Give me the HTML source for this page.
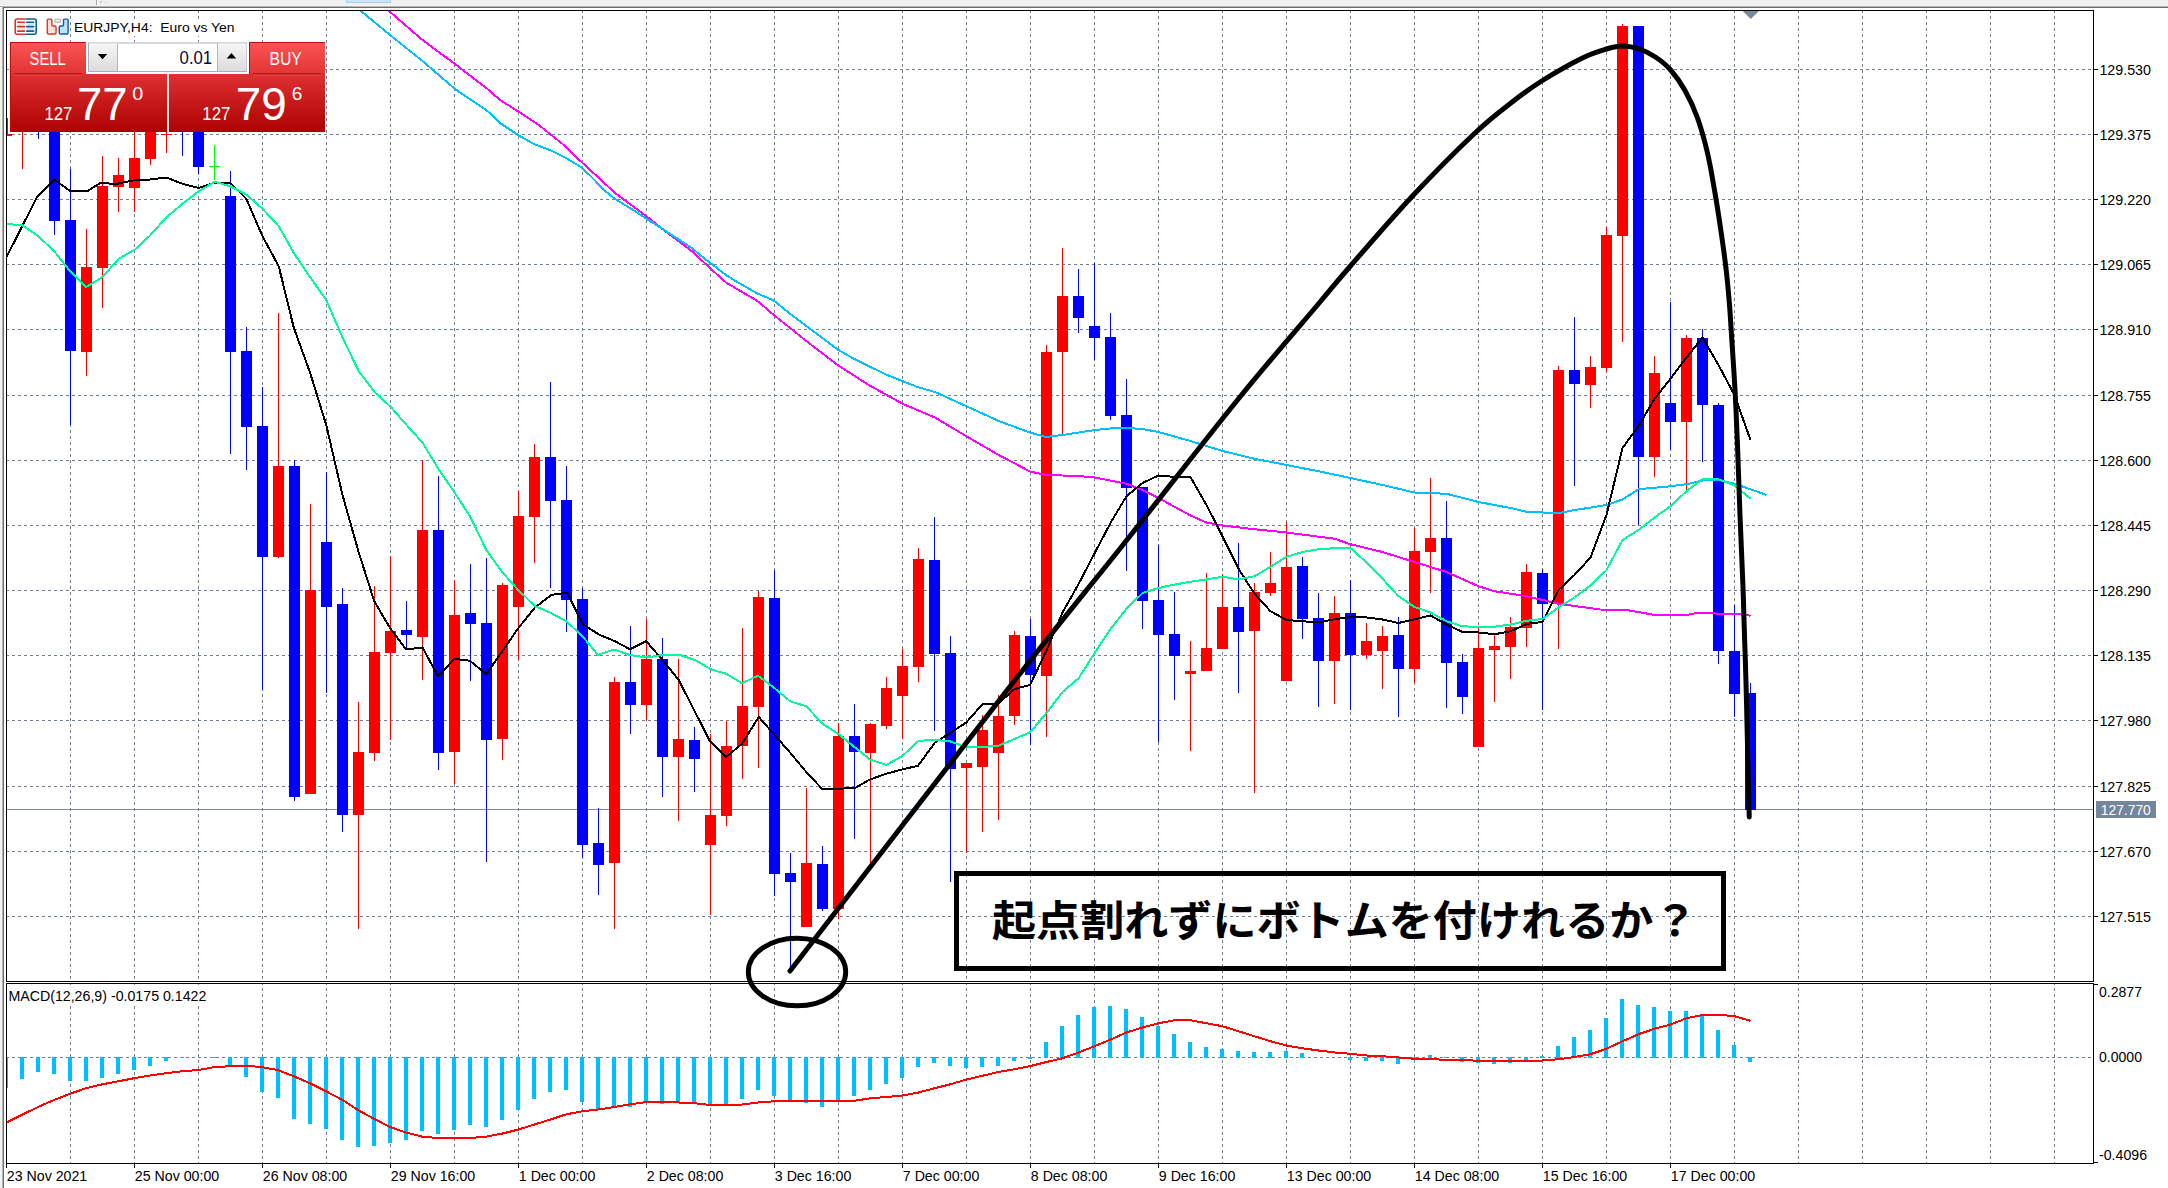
<!DOCTYPE html>
<html lang="ja"><head><meta charset="utf-8"><title>EURJPY,H4</title>
<style>html,body{margin:0;padding:0;background:#fff}body{width:2168px;height:1188px;overflow:hidden}svg{display:block}text{font-family:"Liberation Sans", sans-serif}</style>
</head><body>
<svg width="2168" height="1188" viewBox="0 0 2168 1188">
<defs>
<linearGradient id="gS" x1="0" y1="0" x2="0" y2="1"><stop offset="0" stop-color="#fb5555"/><stop offset="1" stop-color="#e13333"/></linearGradient>
<linearGradient id="gP" x1="0" y1="0" x2="0" y2="1"><stop offset="0" stop-color="#df3131"/><stop offset="1" stop-color="#ad0000"/></linearGradient>
<linearGradient id="gB" x1="0" y1="0" x2="0" y2="1"><stop offset="0" stop-color="#f6f6f6"/><stop offset="1" stop-color="#dcdcdc"/></linearGradient>
<linearGradient id="gT" x1="0" y1="0" x2="0" y2="1"><stop offset="0" stop-color="#dcdcdc"/><stop offset="1" stop-color="#a0a0a0"/></linearGradient>
<clipPath id="cm"><rect x="7" y="11" width="2086" height="970"/></clipPath>
<clipPath id="cd"><rect x="7" y="984" width="2086" height="179"/></clipPath>
</defs>
<rect width="2168" height="1188" fill="#fff"/>
<g shape-rendering="crispEdges">
<rect x="0" y="0" width="2168" height="6" fill="#f0f0f0"/>
<rect x="0" y="6" width="2168" height="1" fill="#b4b4b4"/>
<rect x="0" y="7" width="2168" height="1" fill="#6e6e6e"/>
<rect x="0" y="7" width="2" height="1181" fill="#f2f2f2"/>
<rect x="2" y="7" width="1" height="1181" fill="#b4b4b4"/>
<rect x="3" y="7" width="1" height="1181" fill="#6e6e6e"/>
<rect x="96" y="0" width="1" height="5" fill="#c4c4c4"/>
<rect x="346" y="0" width="45" height="3" fill="#a9cff0"/><rect x="347" y="0" width="43" height="2" fill="#cce4f7"/>
<rect x="97" y="0" width="1" height="6" fill="#fff"/><rect x="96" y="0" width="1" height="6" fill="#a4a4a4"/><rect x="100" y="1" width="2" height="2" fill="#cdcdcd"/><rect x="105" y="2" width="1" height="1" fill="#c4c4c4"/>
<rect x="0" y="5" width="2168" height="1" fill="#f6f6f6"/>
</g>
<g stroke="#708090" stroke-width="1" stroke-dasharray="3 3" shape-rendering="crispEdges" fill="none">
<path d="M6 69.5 H2093"/>
<path d="M6 134.5 H2093"/>
<path d="M6 199.5 H2093"/>
<path d="M6 264.5 H2093"/>
<path d="M6 329.5 H2093"/>
<path d="M6 395.5 H2093"/>
<path d="M6 460.5 H2093"/>
<path d="M6 525.5 H2093"/>
<path d="M6 590.5 H2093"/>
<path d="M6 655.5 H2093"/>
<path d="M6 720.5 H2093"/>
<path d="M6 786.5 H2093"/>
<path d="M6 851.5 H2093"/>
<path d="M6 916.5 H2093"/>
<path d="M6 1057.5 H2093"/>
<path d="M70.5 10 V981"/>
<path stroke-dashoffset="1" d="M70.5 983 V1163"/>
<path d="M134.5 10 V981"/>
<path stroke-dashoffset="1" d="M134.5 983 V1163"/>
<path d="M198.5 10 V981"/>
<path stroke-dashoffset="1" d="M198.5 983 V1163"/>
<path d="M262.5 10 V981"/>
<path stroke-dashoffset="1" d="M262.5 983 V1163"/>
<path d="M326.5 10 V981"/>
<path stroke-dashoffset="1" d="M326.5 983 V1163"/>
<path d="M390.5 10 V981"/>
<path stroke-dashoffset="1" d="M390.5 983 V1163"/>
<path d="M454.5 10 V981"/>
<path stroke-dashoffset="1" d="M454.5 983 V1163"/>
<path d="M518.5 10 V981"/>
<path stroke-dashoffset="1" d="M518.5 983 V1163"/>
<path d="M582.5 10 V981"/>
<path stroke-dashoffset="1" d="M582.5 983 V1163"/>
<path d="M646.5 10 V981"/>
<path stroke-dashoffset="1" d="M646.5 983 V1163"/>
<path d="M710.5 10 V981"/>
<path stroke-dashoffset="1" d="M710.5 983 V1163"/>
<path d="M774.5 10 V981"/>
<path stroke-dashoffset="1" d="M774.5 983 V1163"/>
<path d="M838.5 10 V981"/>
<path stroke-dashoffset="1" d="M838.5 983 V1163"/>
<path d="M902.5 10 V981"/>
<path stroke-dashoffset="1" d="M902.5 983 V1163"/>
<path d="M966.5 10 V981"/>
<path stroke-dashoffset="1" d="M966.5 983 V1163"/>
<path d="M1030.5 10 V981"/>
<path stroke-dashoffset="1" d="M1030.5 983 V1163"/>
<path d="M1094.5 10 V981"/>
<path stroke-dashoffset="1" d="M1094.5 983 V1163"/>
<path d="M1158.5 10 V981"/>
<path stroke-dashoffset="1" d="M1158.5 983 V1163"/>
<path d="M1222.5 10 V981"/>
<path stroke-dashoffset="1" d="M1222.5 983 V1163"/>
<path d="M1286.5 10 V981"/>
<path stroke-dashoffset="1" d="M1286.5 983 V1163"/>
<path d="M1350.5 10 V981"/>
<path stroke-dashoffset="1" d="M1350.5 983 V1163"/>
<path d="M1414.5 10 V981"/>
<path stroke-dashoffset="1" d="M1414.5 983 V1163"/>
<path d="M1478.5 10 V981"/>
<path stroke-dashoffset="1" d="M1478.5 983 V1163"/>
<path d="M1542.5 10 V981"/>
<path stroke-dashoffset="1" d="M1542.5 983 V1163"/>
<path d="M1606.5 10 V981"/>
<path stroke-dashoffset="1" d="M1606.5 983 V1163"/>
<path d="M1670.5 10 V981"/>
<path stroke-dashoffset="1" d="M1670.5 983 V1163"/>
<path d="M1734.5 10 V981"/>
<path stroke-dashoffset="1" d="M1734.5 983 V1163"/>
<path d="M1798.5 10 V981"/>
<path stroke-dashoffset="1" d="M1798.5 983 V1163"/>
<path d="M1862.5 10 V981"/>
<path stroke-dashoffset="1" d="M1862.5 983 V1163"/>
<path d="M1926.5 10 V981"/>
<path stroke-dashoffset="1" d="M1926.5 983 V1163"/>
<path d="M1990.5 10 V981"/>
<path stroke-dashoffset="1" d="M1990.5 983 V1163"/>
<path d="M2054.5 10 V981"/>
<path stroke-dashoffset="1" d="M2054.5 983 V1163"/>
</g>
<rect x="7" y="809" width="2086" height="1" fill="#7b8ba1" shape-rendering="crispEdges"/>
<g clip-path="url(#cm)" shape-rendering="crispEdges">
<path fill="#ff0000" d="M22 100h1v69h-1zM17 100h11v10h-11z"/>
<path fill="#0000ff" d="M38 100h1v39h-1zM33 100h11v10h-11z"/>
<path fill="#0000ff" d="M54 100h1v135h-1zM49 100h11v121h-11z"/>
<path fill="#0000ff" d="M70 169h1v256h-1zM65 220h11v131h-11z"/>
<path fill="#ff0000" d="M86 229h1v147h-1zM81 267h11v85h-11z"/>
<path fill="#ff0000" d="M102 156h1v152h-1zM97 186h11v82h-11z"/>
<path fill="#ff0000" d="M118 158h1v54h-1zM113 175h11v12h-11z"/>
<path fill="#ff0000" d="M134 100h1v112h-1zM129 158h11v30h-11z"/>
<path fill="#ff0000" d="M150 100h1v65h-1zM145 100h11v59h-11z"/>
<path fill="#ff0000" d="M166 100h1v53h-1zM161 134h11v1h-11z"/>
<path fill="#0000ff" d="M182 100h1v56h-1zM177 100h11v10h-11z"/>
<path fill="#0000ff" d="M198 100h1v74h-1zM193 100h11v67h-11z"/>
<path fill="#00ff00" d="M214 145h1v35h-1zM209 166h11v1h-11z"/>
<path fill="#0000ff" d="M230 171h1v283h-1zM225 196h11v156h-11z"/>
<path fill="#0000ff" d="M246 327h1v143h-1zM241 351h11v76h-11z"/>
<path fill="#0000ff" d="M262 387h1v303h-1zM257 426h11v131h-11z"/>
<path fill="#ff0000" d="M278 313h1v245h-1zM273 466h11v91h-11z"/>
<path fill="#0000ff" d="M294 460h1v341h-1zM289 466h11v331h-11z"/>
<path fill="#ff0000" d="M310 504h1v290h-1zM305 590h11v204h-11z"/>
<path fill="#0000ff" d="M326 472h1v221h-1zM321 542h11v65h-11z"/>
<path fill="#0000ff" d="M342 588h1v244h-1zM337 604h11v211h-11z"/>
<path fill="#ff0000" d="M358 702h1v227h-1zM353 752h11v63h-11z"/>
<path fill="#ff0000" d="M374 586h1v175h-1zM369 652h11v101h-11z"/>
<path fill="#ff0000" d="M390 556h1v184h-1zM385 631h11v22h-11z"/>
<path fill="#0000ff" d="M406 601h1v47h-1zM401 630h11v5h-11z"/>
<path fill="#ff0000" d="M422 460h1v220h-1zM417 530h11v107h-11z"/>
<path fill="#0000ff" d="M438 476h1v294h-1zM433 530h11v223h-11z"/>
<path fill="#ff0000" d="M454 580h1v204h-1zM449 615h11v137h-11z"/>
<path fill="#0000ff" d="M470 564h1v117h-1zM465 613h11v11h-11z"/>
<path fill="#0000ff" d="M486 558h1v304h-1zM481 623h11v117h-11z"/>
<path fill="#ff0000" d="M502 583h1v177h-1zM497 585h11v154h-11z"/>
<path fill="#ff0000" d="M518 491h1v169h-1zM513 516h11v91h-11z"/>
<path fill="#ff0000" d="M534 444h1v119h-1zM529 457h11v60h-11z"/>
<path fill="#0000ff" d="M550 382h1v206h-1zM545 457h11v44h-11z"/>
<path fill="#0000ff" d="M566 466h1v166h-1zM561 500h11v100h-11z"/>
<path fill="#0000ff" d="M582 588h1v270h-1zM577 599h11v246h-11z"/>
<path fill="#0000ff" d="M598 808h1v87h-1zM593 843h11v22h-11z"/>
<path fill="#ff0000" d="M614 677h1v252h-1zM609 682h11v181h-11z"/>
<path fill="#0000ff" d="M630 626h1v108h-1zM625 682h11v23h-11z"/>
<path fill="#ff0000" d="M646 619h1v102h-1zM641 659h11v46h-11z"/>
<path fill="#0000ff" d="M662 638h1v159h-1zM657 659h11v98h-11z"/>
<path fill="#ff0000" d="M678 659h1v162h-1zM673 739h11v18h-11z"/>
<path fill="#0000ff" d="M694 727h1v65h-1zM689 740h11v19h-11z"/>
<path fill="#ff0000" d="M710 734h1v181h-1zM705 815h11v30h-11z"/>
<path fill="#ff0000" d="M726 721h1v105h-1zM721 746h11v70h-11z"/>
<path fill="#ff0000" d="M742 628h1v151h-1zM737 706h11v40h-11z"/>
<path fill="#ff0000" d="M758 591h1v177h-1zM753 597h11v110h-11z"/>
<path fill="#0000ff" d="M774 570h1v326h-1zM769 598h11v276h-11z"/>
<path fill="#0000ff" d="M790 853h1v115h-1zM785 873h11v9h-11z"/>
<path fill="#ff0000" d="M806 788h1v139h-1zM801 863h11v64h-11z"/>
<path fill="#0000ff" d="M822 846h1v65h-1zM817 864h11v45h-11z"/>
<path fill="#ff0000" d="M838 723h1v196h-1zM833 736h11v173h-11z"/>
<path fill="#0000ff" d="M854 704h1v135h-1zM849 736h11v16h-11z"/>
<path fill="#ff0000" d="M870 723h1v141h-1zM865 724h11v29h-11z"/>
<path fill="#ff0000" d="M886 677h1v52h-1zM881 688h11v38h-11z"/>
<path fill="#ff0000" d="M902 649h1v90h-1zM897 666h11v30h-11z"/>
<path fill="#ff0000" d="M918 548h1v134h-1zM913 559h11v108h-11z"/>
<path fill="#0000ff" d="M934 517h1v214h-1zM929 560h11v94h-11z"/>
<path fill="#0000ff" d="M950 636h1v246h-1zM945 653h11v116h-11z"/>
<path fill="#ff0000" d="M966 763h1v90h-1zM961 763h11v5h-11z"/>
<path fill="#ff0000" d="M982 715h1v117h-1zM977 730h11v37h-11z"/>
<path fill="#ff0000" d="M998 695h1v125h-1zM993 716h11v37h-11z"/>
<path fill="#ff0000" d="M1014 631h1v94h-1zM1009 635h11v81h-11z"/>
<path fill="#0000ff" d="M1030 619h1v126h-1zM1025 636h11v39h-11z"/>
<path fill="#ff0000" d="M1046 345h1v392h-1zM1041 352h11v324h-11z"/>
<path fill="#ff0000" d="M1062 248h1v186h-1zM1057 296h11v56h-11z"/>
<path fill="#0000ff" d="M1078 269h1v64h-1zM1073 296h11v22h-11z"/>
<path fill="#0000ff" d="M1094 263h1v97h-1zM1089 326h11v12h-11z"/>
<path fill="#0000ff" d="M1110 313h1v107h-1zM1105 337h11v79h-11z"/>
<path fill="#0000ff" d="M1126 379h1v192h-1zM1121 415h11v73h-11z"/>
<path fill="#0000ff" d="M1142 487h1v142h-1zM1137 487h11v114h-11z"/>
<path fill="#0000ff" d="M1158 545h1v197h-1zM1153 600h11v35h-11z"/>
<path fill="#0000ff" d="M1174 592h1v108h-1zM1169 634h11v22h-11z"/>
<path fill="#ff0000" d="M1190 641h1v110h-1zM1185 671h11v3h-11z"/>
<path fill="#ff0000" d="M1206 573h1v98h-1zM1201 648h11v23h-11z"/>
<path fill="#ff0000" d="M1222 574h1v75h-1zM1217 607h11v42h-11z"/>
<path fill="#0000ff" d="M1238 543h1v150h-1zM1233 607h11v25h-11z"/>
<path fill="#ff0000" d="M1254 583h1v210h-1zM1249 592h11v39h-11z"/>
<path fill="#ff0000" d="M1270 552h1v44h-1zM1265 583h11v10h-11z"/>
<path fill="#ff0000" d="M1286 522h1v159h-1zM1281 567h11v114h-11z"/>
<path fill="#0000ff" d="M1302 557h1v82h-1zM1297 566h11v53h-11z"/>
<path fill="#0000ff" d="M1318 593h1v114h-1zM1313 618h11v43h-11z"/>
<path fill="#ff0000" d="M1334 596h1v108h-1zM1329 613h11v48h-11z"/>
<path fill="#0000ff" d="M1350 580h1v130h-1zM1345 613h11v42h-11z"/>
<path fill="#ff0000" d="M1366 623h1v36h-1zM1361 641h11v14h-11z"/>
<path fill="#ff0000" d="M1382 626h1v63h-1zM1377 636h11v15h-11z"/>
<path fill="#0000ff" d="M1398 617h1v100h-1zM1393 635h11v34h-11z"/>
<path fill="#ff0000" d="M1414 528h1v155h-1zM1409 551h11v118h-11z"/>
<path fill="#ff0000" d="M1430 478h1v115h-1zM1425 538h11v14h-11z"/>
<path fill="#0000ff" d="M1446 501h1v207h-1zM1441 538h11v125h-11z"/>
<path fill="#0000ff" d="M1462 654h1v60h-1zM1457 662h11v35h-11z"/>
<path fill="#ff0000" d="M1478 628h1v119h-1zM1473 648h11v99h-11z"/>
<path fill="#ff0000" d="M1494 635h1v67h-1zM1489 646h11v4h-11z"/>
<path fill="#ff0000" d="M1510 617h1v62h-1zM1505 627h11v20h-11z"/>
<path fill="#ff0000" d="M1526 564h1v83h-1zM1521 572h11v56h-11z"/>
<path fill="#0000ff" d="M1542 569h1v141h-1zM1537 573h11v31h-11z"/>
<path fill="#ff0000" d="M1558 366h1v283h-1zM1553 370h11v234h-11z"/>
<path fill="#0000ff" d="M1574 317h1v169h-1zM1569 370h11v14h-11z"/>
<path fill="#ff0000" d="M1590 356h1v52h-1zM1585 367h11v18h-11z"/>
<path fill="#ff0000" d="M1606 227h1v145h-1zM1601 235h11v133h-11z"/>
<path fill="#ff0000" d="M1622 24h1v318h-1zM1617 26h11v210h-11z"/>
<path fill="#0000ff" d="M1638 26h1v499h-1zM1633 26h11v431h-11z"/>
<path fill="#ff0000" d="M1654 356h1v121h-1zM1649 373h11v84h-11z"/>
<path fill="#0000ff" d="M1670 302h1v148h-1zM1665 403h11v19h-11z"/>
<path fill="#ff0000" d="M1686 335h1v155h-1zM1681 338h11v84h-11z"/>
<path fill="#0000ff" d="M1702 329h1v133h-1zM1697 338h11v67h-11z"/>
<path fill="#0000ff" d="M1718 403h1v261h-1zM1713 405h11v246h-11z"/>
<path fill="#0000ff" d="M1734 605h1v112h-1zM1729 651h11v43h-11z"/>
<path fill="#0000ff" d="M1750 683h1v136h-1zM1745 693h11v117h-11z"/>
<path fill="#ff0000" d="M7 118h1v17h-1zM7 134h5v2h-5z"/>
</g>
<g clip-path="url(#cm)" fill="none" stroke-width="2" stroke-linejoin="round" shape-rendering="crispEdges">
<polyline stroke="#ff00ff" points="374,-2 389,11 422.5,40 455,64 487.5,89 500,100 518.75,111.75 537.5,124 563.75,145 582.5,163 600,179 615,193 646,216 665,231 692.5,251.75 700,258.75 711,269 726,282.5 757.5,301 773.75,315 805,340 837.5,365 868.75,385 902.5,403.75 935,417.5 966,436 998.75,455 1030,471.5 1046,475 1078.75,476 1095,477.5 1126.5,483.75 1142.5,490 1158.5,498 1190.5,515.5 1206.5,522.5 1222.5,525.5 1254.5,529.25 1286.5,532.5 1334.5,538.75 1350.5,544.25 1382.5,552 1414.5,562 1446.5,572 1478.5,586.25 1494.5,591.25 1500,592 1526.5,596.25 1558.5,603.75 1600,609.5 1626.5,610 1655,615 1686.5,615 1695,613.25 1735,613.75 1750.5,615.75"/>
<polyline stroke="#00bfff" points="345,-2 361,11 390,35 422.5,61 455,89 487.5,111 500,123 518.75,135.5 533.75,144 550,150 566,158 581,167 590,175.5 606,191.75 615,199 630,208 646,218.5 665,230.5 692.5,248.5 700,255 711,263.5 726,275 733.75,280 742.5,285 757.5,293.5 773.75,300.5 790,313.75 837.5,349.5 853.75,358.75 886,374.5 917.5,387 935,392 966,406 998.75,421 1030,432.5 1046,437 1062.5,435 1095,430 1120,427.5 1142.5,429 1158.5,432 1190.5,441 1222.5,451 1254.5,458.75 1286.5,465 1318.5,471.25 1350.5,478 1382.5,485 1414.5,492.5 1446.5,493.75 1478.5,502 1510.5,508 1526.5,511.75 1558.5,513.25 1575,510 1606.5,505 1622.5,499.5 1638.5,489.25 1670.5,486.25 1686.5,484.25 1702.5,480.5 1718.5,480 1734.5,483.75 1750.5,489.25 1766.5,495"/>
<polyline stroke="#000" points="6,258 37.5,196.25 54.25,179.5 70,191 87.5,191 101.25,182.5 115,184.25 135,180 150,179.5 166.25,177.5 182.5,183.75 198.75,188 215,182.5 230,182.5 246.25,198.75 262.5,236.25 278.75,266.25 293.75,327.5 310,372.5 326.25,425 342.5,495 358.75,552.5 374.25,601.25 390.5,628.75 406.25,649.5 422.5,647.5 438,676.25 454.5,658.75 470,660.75 486.25,674.25 518.75,627.5 535,607.5 551.25,595 567,592.5 582.5,623.75 598.75,634.5 615,641.25 630,649.25 646.25,641.25 662.5,660 678.75,680 710,741.25 726.25,757 742,743.75 758.75,717 790,752.5 806.25,772 822,788.75 838,788.75 855,788 870,779.5 886.25,773.75 902,769.5 918,765.75 935,742.5 950,733.25 966.25,722.5 982.5,704.25 998.75,703.25 1014.5,689 1030,685 1046.75,650 1062.5,612.5 1078.75,583.75 1095,552.5 1110.75,522.5 1126.5,496.25 1142.5,483 1158.5,475.5 1175,477 1190.5,477 1206.5,505 1222.5,536.25 1238.5,568.75 1254.5,593.75 1270.5,611.25 1286.5,620 1302.5,621.25 1318.5,622.5 1334.5,619.25 1350.5,617 1366.5,617.5 1382.5,619.5 1398.5,623 1414.5,619.25 1430.5,615.5 1446.5,624.5 1462.5,632 1478.5,632.5 1494.5,634.25 1510.5,631.25 1526.5,624 1542.5,622 1558.5,590 1574.5,575 1590.5,557.5 1606.5,515 1622.5,448 1638.5,426.25 1654.5,398.75 1670.5,378.75 1686.5,357.5 1702.5,337.5 1718.5,365 1734.5,395 1750.5,440"/>
<polyline stroke="#00fa9a" points="6.25,223.75 22.5,225.5 37.5,235.5 54.25,251.25 70,271.25 86.25,287 102.5,277 118.75,258.75 135,249.5 150,235.5 166.25,217.5 182.5,203.75 198.75,191.25 215,181.75 230,186.25 246.25,194.5 262.5,208.75 278.75,226.25 295,255 310,277 326.25,300 342.5,337.5 358.75,371.25 375,392.5 391.25,407.5 406.5,425 422.5,442.5 437.5,467.5 454.5,492.5 470,516.25 486.25,550 502.5,572.5 518.75,590.5 535,606.25 550,612.5 566.25,621.25 582.5,636.25 598,655 613.75,649.5 630,655 646.25,657.5 662.5,655 680,655 695,660 711.25,669.5 726.25,673.75 742,683.25 758,675.75 773.75,687.5 790,701.25 806.25,706.25 822.5,723.75 838,733.75 855,747.5 870,759.5 886.25,765 902,756.25 918.75,740.75 935,740 950,741.25 966.25,747.5 982.5,747 998.75,745.5 1015,738.75 1030.5,732 1046.75,712.5 1062.5,692 1078.75,678 1095,652.5 1110.75,628.75 1126.5,608.75 1142.5,593 1158.5,588 1175,584.5 1190.5,581.75 1206.5,579.5 1222.5,576.75 1238.5,579.5 1254.5,576.25 1270.5,566.75 1286.5,556.75 1302.5,552 1318.5,549.25 1334.5,548.25 1350.5,548 1366.5,562.5 1382.5,578.75 1398.5,596.25 1414.5,607 1430.5,612.5 1446.5,621.25 1462.5,626.25 1478.5,627 1494.5,626.75 1510.5,624.5 1526.5,620.75 1542.5,619 1558.5,607.5 1574.5,597.5 1590.5,585.5 1606.5,570 1622.5,540 1638.5,530 1654.5,517.5 1670.5,506.25 1686.5,491.25 1702.5,479.25 1718.5,479.25 1734.5,485.5 1750.5,498.75"/>
</g>
<g clip-path="url(#cd)" shape-rendering="crispEdges">
<path fill="#00bfff" d="M4 1057h4v31h-4zM20 1057h4v22h-4zM36 1057h4v15h-4zM52 1057h4v17h-4zM68 1057h4v24h-4zM84 1057h4v24h-4zM100 1057h4v21h-4zM116 1057h4v17h-4zM132 1057h4v13h-4zM148 1057h4v9h-4zM164 1057h4v4h-4zM180 1057h4v1h-4zM212 1057h4v1h-4zM228 1057h4v9h-4zM244 1057h4v20h-4zM260 1057h4v35h-4zM276 1057h4v41h-4zM292 1057h4v62h-4zM308 1057h4v67h-4zM324 1057h4v72h-4zM340 1057h4v83h-4zM356 1057h4v90h-4zM372 1057h4v89h-4zM388 1057h4v86h-4zM404 1057h4v83h-4zM420 1057h4v74h-4zM436 1057h4v77h-4zM452 1057h4v73h-4zM468 1057h4v68h-4zM484 1057h4v70h-4zM500 1057h4v63h-4zM516 1057h4v53h-4zM532 1057h4v42h-4zM548 1057h4v35h-4zM564 1057h4v33h-4zM580 1057h4v45h-4zM596 1057h4v53h-4zM612 1057h4v50h-4zM628 1057h4v50h-4zM644 1057h4v45h-4zM660 1057h4v47h-4zM676 1057h4v45h-4zM692 1057h4v45h-4zM708 1057h4v48h-4zM724 1057h4v47h-4zM740 1057h4v42h-4zM756 1057h4v33h-4zM772 1057h4v39h-4zM788 1057h4v44h-4zM804 1057h4v46h-4zM820 1057h4v50h-4zM836 1057h4v44h-4zM852 1057h4v39h-4zM868 1057h4v33h-4zM884 1057h4v27h-4zM900 1057h4v21h-4zM916 1057h4v10h-4zM932 1057h4v6h-4zM948 1057h4v9h-4zM964 1057h4v11h-4zM980 1057h4v10h-4zM996 1057h4v9h-4zM1012 1057h4v4h-4zM1028 1057h4v2h-4zM1044 1042h4v16h-4zM1060 1026h4v32h-4zM1076 1015h4v43h-4zM1092 1007h4v51h-4zM1108 1006h4v52h-4zM1124 1009h4v49h-4zM1140 1017h4v41h-4zM1156 1026h4v32h-4zM1172 1034h4v24h-4zM1188 1042h4v16h-4zM1204 1047h4v11h-4zM1220 1049h4v9h-4zM1236 1051h4v7h-4zM1252 1052h4v6h-4zM1268 1052h4v6h-4zM1284 1051h4v7h-4zM1300 1053h4v5h-4zM1348 1057h4v3h-4zM1364 1057h4v4h-4zM1380 1057h4v4h-4zM1396 1057h4v7h-4zM1412 1057h4v2h-4zM1428 1055h4v3h-4zM1444 1057h4v1h-4zM1460 1057h4v5h-4zM1476 1057h4v6h-4zM1492 1057h4v7h-4zM1508 1057h4v6h-4zM1524 1057h4v3h-4zM1540 1056h4v2h-4zM1556 1046h4v12h-4zM1572 1037h4v21h-4zM1588 1030h4v28h-4zM1604 1018h4v40h-4zM1620 999h4v59h-4zM1636 1005h4v53h-4zM1652 1007h4v51h-4zM1668 1011h4v47h-4zM1684 1011h4v47h-4zM1700 1016h4v42h-4zM1716 1030h4v28h-4zM1732 1045h4v13h-4zM1748 1057h4v5h-4z"/>
<polyline fill="none" stroke="#ff0000" stroke-width="2" points="6.75,1122.5 22.5,1114.5 38,1107 54,1100 70,1093.75 86,1088.25 102.5,1084.25 118.75,1081.25 135,1078 150,1075.5 166,1073.25 182.5,1071.25 198.75,1070 215,1067 230,1066.25 246,1065.75 261,1067 277.5,1070 293.75,1076.25 310,1083.25 326,1091.25 342.5,1100 358,1110 374,1118.75 390,1127 406,1132.5 422.5,1136.75 438.75,1138 455,1138 470,1138 486,1136.75 502.5,1133.5 518.5,1129.5 534.5,1124.5 550.5,1119.5 566.5,1114.25 582.5,1111.25 598.5,1109.5 614.5,1107 630.5,1104.25 646.5,1102 662.5,1102 678.5,1102.5 694.5,1103.25 710.5,1105 726.5,1105 742.5,1104.5 758.5,1102.5 774.5,1101.25 790.5,1100.75 806.5,1100.75 822.5,1100.75 838.5,1100.75 854.5,1100.75 870.5,1098.25 886.5,1097 902.5,1095.5 918.5,1092.5 934.5,1088.25 950.5,1084.25 966.5,1079.5 982.5,1075.75 998.5,1072 1014.5,1069.25 1030.5,1066 1046.5,1062 1062.5,1058.25 1078.5,1052.5 1094.5,1046.25 1110.5,1039.5 1126.5,1032.5 1142.5,1027.5 1158.5,1023.25 1174.5,1020.25 1190.5,1020.25 1206.5,1023.25 1222.5,1026.25 1238.5,1031.25 1254.5,1036.25 1270.5,1041.25 1286.5,1045.5 1302.5,1048.25 1318.5,1050.5 1334.5,1052.5 1350.5,1053.75 1366.5,1055.5 1382.5,1056.25 1398.5,1057.5 1414.5,1058.75 1430.5,1059.25 1446.5,1059.75 1462.5,1060 1478.5,1060.75 1494.5,1060.75 1510.5,1060.75 1526.5,1060.75 1542.5,1060.5 1558.5,1059.25 1574.5,1057 1590.5,1054.25 1606.5,1048.75 1622.5,1041.25 1638.5,1034.25 1654.5,1028.75 1670.5,1024.5 1686.5,1018.25 1702.5,1015 1718.5,1014.75 1734.5,1016.25 1750.5,1020.75"/>
</g>
<g fill="none" stroke="#000" stroke-width="1" shape-rendering="crispEdges">
<rect x="6.5" y="10.5" width="2087" height="971"/>
<rect x="6.5" y="983.5" width="2087" height="180"/>
<path d="M2093 69.5h5M2093 134.5h5M2093 199.5h5M2093 264.5h5M2093 329.5h5M2093 395.5h5M2093 460.5h5M2093 525.5h5M2093 590.5h5M2093 655.5h5M2093 720.5h5M2093 786.5h5M2093 851.5h5M2093 916.5h5M2093 984.5h5M2093 1162.5h5M6.5 1163v5M134.5 1163v5M262.5 1163v5M390.5 1163v5M518.5 1163v5M646.5 1163v5M774.5 1163v5M902.5 1163v5M1030.5 1163v5M1158.5 1163v5M1286.5 1163v5M1414.5 1163v5M1542.5 1163v5M1670.5 1163v5"/>
</g>
<g font-size="14" fill="#000">
<text x="2099.4" y="75" textLength="51.6" lengthAdjust="spacingAndGlyphs">129.530</text>
<text x="2099.4" y="140" textLength="51.6" lengthAdjust="spacingAndGlyphs">129.375</text>
<text x="2099.4" y="205" textLength="51.6" lengthAdjust="spacingAndGlyphs">129.220</text>
<text x="2099.4" y="270" textLength="51.6" lengthAdjust="spacingAndGlyphs">129.065</text>
<text x="2099.4" y="335" textLength="51.6" lengthAdjust="spacingAndGlyphs">128.910</text>
<text x="2099.4" y="401" textLength="51.6" lengthAdjust="spacingAndGlyphs">128.755</text>
<text x="2099.4" y="466" textLength="51.6" lengthAdjust="spacingAndGlyphs">128.600</text>
<text x="2099.4" y="531" textLength="51.6" lengthAdjust="spacingAndGlyphs">128.445</text>
<text x="2099.4" y="596" textLength="51.6" lengthAdjust="spacingAndGlyphs">128.290</text>
<text x="2099.4" y="661" textLength="51.6" lengthAdjust="spacingAndGlyphs">128.135</text>
<text x="2099.4" y="726" textLength="51.6" lengthAdjust="spacingAndGlyphs">127.980</text>
<text x="2099.4" y="792" textLength="51.6" lengthAdjust="spacingAndGlyphs">127.825</text>
<text x="2099.4" y="857" textLength="51.6" lengthAdjust="spacingAndGlyphs">127.670</text>
<text x="2099.4" y="922" textLength="51.6" lengthAdjust="spacingAndGlyphs">127.515</text>
<text x="2099" y="997" textLength="43" lengthAdjust="spacingAndGlyphs">0.2877</text>
<text x="2099" y="1062" textLength="43" lengthAdjust="spacingAndGlyphs">0.0000</text>
<text x="2099" y="1160" textLength="48" lengthAdjust="spacingAndGlyphs">-0.4096</text>
<text x="6.8" y="1181" font-size="14.2">23 Nov 2021</text>
<text x="134.8" y="1181" font-size="14.2">25 Nov 00:00</text>
<text x="262.8" y="1181" font-size="14.2">26 Nov 08:00</text>
<text x="390.8" y="1181" font-size="14.2">29 Nov 16:00</text>
<text x="518.8" y="1181" font-size="14.2">1 Dec 00:00</text>
<text x="646.8" y="1181" font-size="14.2">2 Dec 08:00</text>
<text x="774.8" y="1181" font-size="14.2">3 Dec 16:00</text>
<text x="902.8" y="1181" font-size="14.2">7 Dec 00:00</text>
<text x="1030.8" y="1181" font-size="14.2">8 Dec 08:00</text>
<text x="1158.8" y="1181" font-size="14.2">9 Dec 16:00</text>
<text x="1286.8" y="1181" font-size="14.2">13 Dec 00:00</text>
<text x="1414.8" y="1181" font-size="14.2">14 Dec 08:00</text>
<text x="1542.8" y="1181" font-size="14.2">15 Dec 16:00</text>
<text x="1670.8" y="1181" font-size="14.2">17 Dec 00:00</text>
<rect x="8" y="987" width="199" height="18" fill="#fff"/>
<text x="8.4" y="1001" textLength="198" lengthAdjust="spacingAndGlyphs">MACD(12,26,9) -0.0175 0.1422</text>
</g>
<rect x="2096" y="801" width="60" height="17" fill="#73869c" shape-rendering="crispEdges"/>
<text x="2100.8" y="815" font-size="14" fill="#fff" textLength="50" lengthAdjust="spacingAndGlyphs">127.770</text>
<path d="M1742.5 11h16.5l-8.25 8z" fill="#7b8a9b"/>
<g fill="none" stroke-width="1.4" stroke-linejoin="round">
<path d="M25.6 18.95H17.2a2 2 0 0 0-2 2v11.3a2 2 0 0 0 2 2h8.4" stroke="#d9352c" stroke-width="1.6"/>
<path d="M25.6 18.95h8.6a2 2 0 0 1 2 2v11.3a2 2 0 0 1-2 2h-8.6" stroke="#0b5ba7" stroke-width="1.6"/>
<path d="M17.6 24.4h7M17.6 28.9h7" stroke="#ffe0d8" stroke-width="2.2"/>
<path d="M26.7 24.4h7M26.7 28.9h7" stroke="#c4e6ff" stroke-width="2.2"/>
<path d="M17.6 22.2h7M17.6 26.6h7M17.6 31.1h7" stroke="#d9352c" stroke-width="1.6" stroke-linecap="round"/>
<path d="M26.7 22.2h7M26.7 26.6h7M26.7 31.1h7" stroke="#0b5ba7" stroke-width="1.6" stroke-linecap="round"/>
<path d="M48.35 19.1h2.5a1 1 0 0 1 1 1v4.9a1 1 0 0 0 1 1h2a1.2 1.2 0 0 1 1.2 1.2v5.6a1.2 1.2 0 0 1-1.2 1.2h-6.4a1.2 1.2 0 0 1-1.2-1.2v-12.7a1 1 0 0 1 1-1z" stroke="#d9352c" fill="#ffe0d6"/>
<path d="M67 19.1h-2.5a1 1 0 0 0-1 1v4.9a1 1 0 0 1-1 1h-2a1.2 1.2 0 0 0-1.2 1.2v5.6a1.2 1.2 0 0 0 1.2 1.2h6.4a1.2 1.2 0 0 0 1.2-1.2v-12.7a1 1 0 0 0-1-1z" stroke="#0b5ba7" fill="#bfe4ff"/>
<rect x="54.8" y="19.2" width="5.9" height="2.9" rx="1.2" stroke="#a6a6a6" stroke-width="1.1" fill="#fff"/>
</g>
<rect x="73" y="20" width="163" height="16" fill="#fff"/>
<text x="73.9" y="31.6" font-size="13.2" fill="#000" textLength="160.6" lengthAdjust="spacingAndGlyphs" style="white-space:pre">EURJPY,H4:  Euro vs Yen</text>
<g>
<rect x="86" y="42" width="163" height="33" fill="#fdfdfd"/>
<rect x="10" y="42" width="76" height="33" fill="url(#gS)"/>
<rect x="249" y="42" width="76" height="33" fill="url(#gS)"/>
<rect x="10" y="74" width="157" height="58" fill="url(#gP)"/>
<rect x="169" y="74" width="156" height="58" fill="url(#gP)"/>
<rect x="167" y="74" width="2" height="58" fill="#f8e4e4"/>
<path d="M10.5 132V42.5H85.5M249.5 74V42.5H324.5" fill="none" stroke="#c40808" stroke-width="1"/>
<path d="M14 74h68M253 74h68" stroke="#8e0000" stroke-width="1.2"/>
<path d="M14 75h68M253 75h68" stroke="#ee5c5c" stroke-width="0.8"/>
<rect x="88.5" y="43" width="158" height="28.5" fill="#fff" stroke="#a9afb9" stroke-width="1"/>
<rect x="89" y="43.5" width="28" height="27.5" fill="url(#gB)"/>
<rect x="218" y="43.5" width="28.5" height="27.5" fill="url(#gB)"/>
<path d="M117.5 43.5v27.5M217.5 43.5v27.5" stroke="#b0b6c0" stroke-width="1"/>
<path d="M97.8 54h9.4l-4.7 5.2z" fill="#000"/>
<path d="M226.7 58.4h9.5l-4.75-5.5z" fill="#000"/>
<text x="179.6" y="63.9" font-size="18" fill="#08082c" textLength="32.6" lengthAdjust="spacingAndGlyphs">0.01</text>
<g fill="#fff">
<text x="29.6" y="65" font-size="18.2" textLength="36" lengthAdjust="spacingAndGlyphs">SELL</text>
<text x="269.4" y="65" font-size="18.2" textLength="32.4" lengthAdjust="spacingAndGlyphs">BUY</text>
<text x="44.4" y="119.9" font-size="17.6" textLength="28" lengthAdjust="spacingAndGlyphs">127</text>
<text x="202.3" y="119.9" font-size="17.6" textLength="28" lengthAdjust="spacingAndGlyphs">127</text>
<text x="77" y="119.9" font-size="46.5" textLength="50.7" lengthAdjust="spacingAndGlyphs">77</text>
<text x="235.7" y="119.9" font-size="46.5" textLength="51" lengthAdjust="spacingAndGlyphs">79</text>
<text x="132.3" y="99.9" font-size="17.6" textLength="11" lengthAdjust="spacingAndGlyphs">0</text>
<text x="291.8" y="99.9" font-size="17.6" textLength="10.6" lengthAdjust="spacingAndGlyphs">6</text>
</g></g>
<g fill="none" stroke="#000">
<path d="M790 971 C827.5 922.5 959.58 750.92 1015 680 C1070.42 609.08 1085.42 592.17 1122.5 545.5 C1159.58 498.83 1205 440.08 1237.5 400 C1270 359.92 1298.75 327.25 1317.5 305 C1336.25 282.75 1334.17 284.67 1350 266.5 C1365.83 248.33 1391.67 218.25 1412.5 196 C1433.33 173.75 1458.33 148.71 1475 133 C1491.67 117.29 1501.25 110.5 1512.5 101.75 C1523.75 93 1530.83 87.79 1542.5 80.5 C1554.17 73.21 1571.67 63.29 1582.5 58 C1593.33 52.71 1600.83 50.75 1607.5 48.75 C1614.17 46.75 1617.08 45.92 1622.5 46 C1627.92 46.08 1634.58 47.46 1640 49.25 C1645.42 51.04 1650 53.42 1655 56.75 C1660 60.08 1665 63.62 1670 69.25 C1675 74.88 1680.42 82.38 1685 90.5 C1689.58 98.62 1693.75 107.58 1697.5 118 C1701.25 128.42 1704.58 140.5 1707.5 153 C1710.42 165.5 1712.71 179.67 1715 193 C1717.29 206.33 1719.38 220.08 1721.25 233 C1723.12 245.92 1724.88 258.5 1726.25 270.5 C1727.62 282.5 1728.62 294.25 1729.5 305 C1730.38 315.75 1730.58 320.83 1731.5 335 C1732.42 349.17 1734 371.67 1735 390 C1736 408.33 1736.67 424.17 1737.5 445 C1738.33 465.83 1739.08 491.33 1740 515 C1740.92 538.67 1742.33 569.5 1743 587 C1743.67 604.5 1743.5 604.08 1744 620 C1744.5 635.92 1745.42 661.67 1746 682.5 C1746.58 703.33 1746.96 722.58 1747.5 745 C1748.04 767.42 1748.96 805 1749.25 817" stroke-width="5" stroke-linecap="round" stroke-linejoin="round"/>
<ellipse cx="797" cy="972" rx="48.7" ry="33.8" stroke-width="4.9"/>
<rect x="956.5" y="873.5" width="767" height="95" stroke-width="5"/>
</g>
<text x="992" y="937" font-size="44.1" font-weight="700" fill="#000" transform="translate(0 920.3) scale(1 0.966) translate(0 -920.3)" style="font-family:'Liberation Sans','Noto Sans CJK JP',sans-serif">起点割れずにボトムを付けれるか？</text>
</svg>
</body></html>
